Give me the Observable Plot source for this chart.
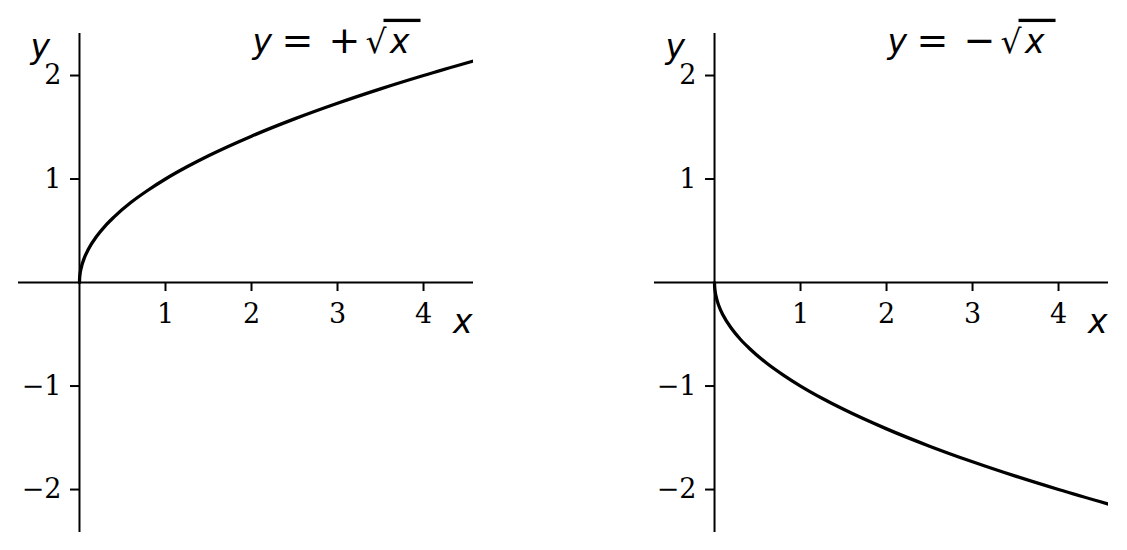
<!DOCTYPE html>
<html>
<head>
<meta charset="utf-8">
<script src="https://cdn.jsdelivr.net/npm/d3@7"></script>
<script src="https://cdn.jsdelivr.net/npm/@observablehq/plot@0.6"></script>
<style>
  html, body { margin: 0; padding: 0; background: #fff; }
  #wrap { display: flex; width: 1127px; height: 550px; }
</style>
</head>
<body>
<div id="wrap"></div>
<script>
// ---- data ----
const xSamples = [0, 0.001, 0.005, 0.02, 0.05, 0.1, 0.2, 0.3, 0.4, 0.6, 0.8, 1, 1.25, 1.5, 2, 2.5, 3, 3.5, 4, 4.6];
const yPositive = [0, 0.032, 0.071, 0.141, 0.224, 0.316, 0.447, 0.548, 0.632, 0.775, 0.894, 1, 1.118, 1.225, 1.414, 1.581, 1.732, 1.871, 2, 2.145];
const yNegative = [0, -0.032, -0.071, -0.141, -0.224, -0.316, -0.447, -0.548, -0.632, -0.775, -0.894, -1, -1.118, -1.225, -1.414, -1.581, -1.732, -1.871, -2, -2.145];
const xTicks = [1, 2, 3, 4];
const yTicks = [-2, -1, 1, 2];
const titleSigns = ["+", "\u2212"];

const fmt = d => d < 0 ? "\u2212" + Math.abs(d) : String(d);
const serif = "DejaVu Serif, serif";
const sans = "DejaVu Sans, sans-serif";
const yDomain = [-2.415, 2.406];
const H = 550, MT = 33, MB = 18, TICK = 9;

function panel(ys, sign, opts) {
  const pts = xSamples.map((x, i) => ({x, y: ys[i]}));
  const frameW = opts.width - opts.ml - opts.mr;
  const tickX = TICK * (opts.xd[1] - opts.xd[0]) / frameW;
  const tickY = TICK * (yDomain[1] - yDomain[0]) / (H - MT - MB);
  const label = "y = " + sign + "\u221Ax";
  const svg = Plot.plot({
    width: opts.width,
    height: H,
    marginLeft: opts.ml,
    marginRight: opts.mr,
    marginTop: MT,
    marginBottom: MB,
    x: {domain: opts.xd, axis: null},
    y: {domain: yDomain, axis: null},
    style: {background: "white", overflow: "visible"},
    marks: [
      Plot.ruleX([0], {stroke: "black", strokeWidth: 2}),
      Plot.ruleY([0], {stroke: "black", strokeWidth: 2}),
      Plot.ruleX(xTicks, {x: d => d, y1: 0, y2: -tickY, stroke: "black", strokeWidth: 2}),
      Plot.ruleY(yTicks, {y: d => d, x1: 0, x2: -tickX, stroke: "black", strokeWidth: 2}),
      Plot.text(xTicks, {x: d => d, y: 0, text: fmt, dy: 40, lineAnchor: "bottom", textAnchor: "middle", fontFamily: serif, fontSize: 27, fill: "black"}),
      Plot.text(yTicks, {x: 0, y: d => d, text: fmt, dx: -18, lineAnchor: "middle", textAnchor: "end", fontFamily: serif, fontSize: 27, fill: "black"}),
      Plot.line(pts, {x: "x", y: "y", stroke: "black", strokeWidth: 3.3, curve: "monotone-x", clip: true}),
      Plot.text(["y"], {x: -0.457, y: 2.17, text: d => d, lineAnchor: "bottom", textAnchor: "middle", fontFamily: sans, fontStyle: "italic", fontSize: 33, fill: "black"}),
      Plot.text(["x"], {x: 4.455, y: -0.483, text: d => d, lineAnchor: "bottom", textAnchor: "middle", fontFamily: sans, fontStyle: "italic", fontSize: 33, fill: "black"}),
      Plot.text([label], {x: 2, y: 2.22, text: d => d, lineAnchor: "bottom", textAnchor: "start", fontFamily: sans, fontSize: 33, fill: "black"})
    ]
  });
  // typeset the equation: italic variables, radical with overbar
  const t = d3.select(svg).selectAll("text").filter(function () { return this.textContent === label; });
  t.text(null);
  t.append("tspan").attr("x", 1).attr("font-style", "italic").text("y");
  t.append("tspan").attr("x", 30).attr("font-size", 38).text("=");
  t.append("tspan").attr("x", 77).attr("font-size", 38).text(sign);
  t.append("tspan").attr("x", 114).text("\u221A");
  t.append("tspan").attr("x", 132).attr("font-style", "italic")
    .attr("text-decoration", "overline").style("text-decoration", "overline")
    .text("\u2009x\u2004");
  return svg;
}

const wrap = document.getElementById("wrap");
wrap.appendChild(panel(yPositive, titleSigns[0], {width: 563, ml: 18, mr: 90, xd: [-0.709, 4.581]}));
wrap.appendChild(panel(yNegative, titleSigns[1], {width: 564, ml: 91, mr: 19, xd: [-0.698, 4.581]}));
</script>
</body>
</html>
